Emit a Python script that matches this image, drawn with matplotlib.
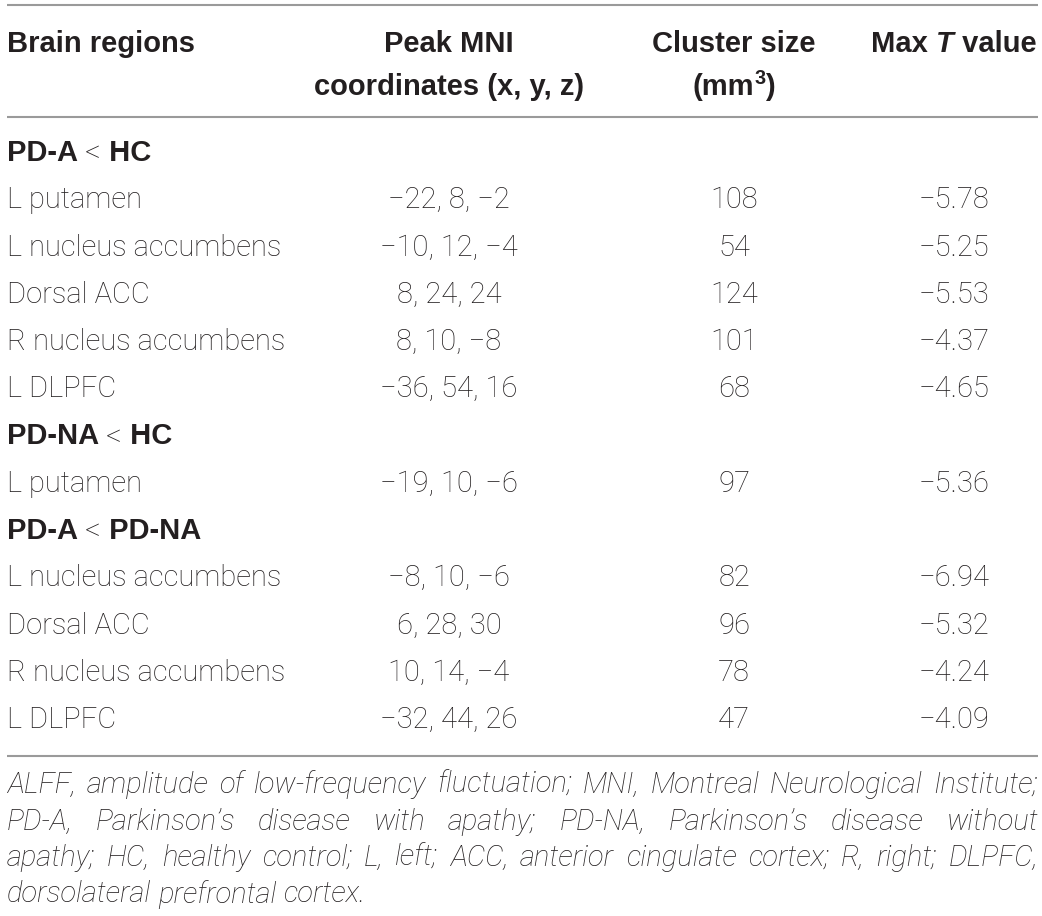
import matplotlib
matplotlib.use("Agg")
import matplotlib.pyplot as plt
from matplotlib import font_manager as fm

# ---------------- data ----------------
header_col1 = "Brain regions"
header_col2 = ["Peak MNI", "coordinates (x, y, z)"]
header_col3 = ["Cluster size", "(mm", "3", ")"]
header_col4 = ["Max ", "T", " value"]

groups = [("PD-A", "HC"), ("PD-NA", "HC"), ("PD-A", "PD-NA")]
group_regions = [
    ["L putamen", "L nucleus accumbens", "Dorsal ACC", "R nucleus accumbens", "L DLPFC"],
    ["L putamen"],
    ["L nucleus accumbens", "Dorsal ACC", "R nucleus accumbens", "L DLPFC"],
]
group_coords = [
    ["\u221222, 8, \u22122", "\u221210, 12, \u22124", "8, 24, 24", "8, 10, \u22128", "\u221236, 54, 16"],
    ["\u221219, 10, \u22126"],
    ["\u22128, 10, \u22126", "6, 28, 30", "10, 14, \u22124", "\u221232, 44, 26"],
]
group_cluster = [
    [108, 54, 124, 101, 68],
    [97],
    [82, 96, 78, 47],
]
group_tmax = [
    ["\u22125.78", "\u22125.25", "\u22125.53", "\u22124.37", "\u22124.65"],
    ["\u22125.36"],
    ["\u22126.94", "\u22125.32", "\u22124.24", "\u22124.09"],
]
footnote_lines = [
    "ALFF, amplitude of low-frequency fluctuation; MNI, Montreal Neurological Institute;",
    "PD-A, Parkinson\u2019s disease with apathy; PD-NA, Parkinson\u2019s disease without",
    "apathy; HC, healthy control; L, left; ACC, anterior cingulate cortex; R, right; DLPFC,",
    "dorsolateral prefrontal cortex.",
]

# ---------------- fonts ----------------
avail = {f.name for f in fm.fontManager.ttflist}
def pick(*names):
    for n in names:
        if n in avail:
            return n
    return "DejaVu Sans"

BODY = pick("Roboto", "Liberation Sans", "Open Sans")
BOLD = pick("Liberation Sans", "Roboto")
ITAL = pick("Roboto", "Liberation Sans")
TXT = "#231f20"
FS = 21
FSB = 21

fig = plt.figure(figsize=(10.42, 9.16), dpi=100)
ax = fig.add_axes([0, 0, 1, 1])
ax.set_xlim(0, 1042)
ax.set_ylim(916, 0)
ax.axis("off")
fig.canvas.draw()
renderer = fig.canvas.get_renderer()

def width(t):
    return t.get_window_extent(renderer=renderer).width

def segs(xc, y, parts, ha="center"):
    """parts: list of (text, kwargs, dy, fontsize)"""
    objs = []
    for txt, kw, dy, fs in parts:
        o = ax.text(0, y + dy, txt, fontsize=fs, va="center", ha="left", **kw)
        objs.append(o)
    ws = [width(o) for o in objs]
    tot = sum(ws)
    x = xc - tot / 2 if ha == "center" else xc
    for o, w in zip(objs, ws):
        o.set_x(x)
        x += w

X1, X2, X3, X4 = 7, 449, 734, 954
LINE_C = "#9a9a9a"

# rules
for yy in (5, 117, 756):
    ax.plot([7, 1038], [yy, yy], color=LINE_C, lw=1.5, solid_capstyle="butt")

# header
bkw = dict(family=BOLD, weight="bold", color=TXT)
nkw = dict(family=BODY, weight="light", color=TXT)
H1, H2 = 44, 87
ax.text(X1, H1, header_col1, fontsize=FSB, va="center", ha="left", **bkw)
ax.text(X2, H1, header_col2[0], fontsize=FSB, va="center", ha="center", **bkw)
ax.text(X2, H2, header_col2[1], fontsize=FSB, va="center", ha="center", **bkw)
ax.text(X3, H1, header_col3[0], fontsize=FSB, va="center", ha="center", **bkw)
segs(X3, H2, [(header_col3[1], bkw, 0, FSB),
              (header_col3[2], bkw, -9, FSB * 0.68),
              (header_col3[3], bkw, 0, FSB)])
bikw = dict(family=BOLD, weight="bold", style="italic", color=TXT)
segs(X4, H1, [(header_col4[0], bkw, 0, FSB),
              (header_col4[1], bikw, 0, FSB),
              (header_col4[2], bkw, 0, FSB)])

# body
y = 153
step = 47.25
for (ga, gb), regs, crd, cl, tv in zip(groups, group_regions, group_coords, group_cluster, group_tmax):
    segs(X1, y, [(ga + " ", bkw, 0, FSB),
                 ("<", dict(family=BODY, weight="light", color=TXT), 1, FSB * 1.05),
                 (" " + gb, bkw, 0, FSB)], ha="left")
    y += step
    for r, c, s, t in zip(regs, crd, cl, tv):
        ax.text(X1, y, r, fontsize=FS, va="center", ha="left", **nkw)
        ax.text(X2, y, c, fontsize=FS, va="center", ha="center", **nkw)
        ax.text(X3, y, str(s), fontsize=FS, va="center", ha="center", **nkw)
        ax.text(X4, y, t, fontsize=FS, va="center", ha="center", **nkw)
        y += step

# footnote, justified
fkw = dict(family=ITAL, style="italic", color=TXT)
if ITAL == "Roboto":
    fkw["weight"] = "light"
left, right = 7, 1038
# choose size so that the last (unjustified) line ends where it does in the reference
probe = ax.text(100, 100, footnote_lines[-1], fontsize=18, **fkw)
nat = width(probe)
probe.remove()
FSF = 18 * 366.0 / nat if nat > 50 else 18.5
FSF = max(15.0, min(21.0, FSF))

sp = ax.text(100, 100, "a a", fontsize=FSF, **fkw)
aa = ax.text(100, 100, "aa", fontsize=FSF, **fkw)
space_w = width(sp) - width(aa)
sp.remove(); aa.remove()

fy = 785
for i, line in enumerate(footnote_lines):
    words = line.split(" ")
    objs = [ax.text(0, fy, w, fontsize=FSF, va="center", ha="left", **fkw) for w in words]
    ws = [width(o) for o in objs]
    if i < len(footnote_lines) - 1 and len(words) > 1:
        gap = (right - left - sum(ws)) / (len(words) - 1)
    else:
        gap = space_w
    x = left
    for o, w in zip(objs, ws):
        o.set_x(x)
        x += w + gap
    fy += 36.5

fig.savefig("out.png", dpi=100, facecolor="white")
